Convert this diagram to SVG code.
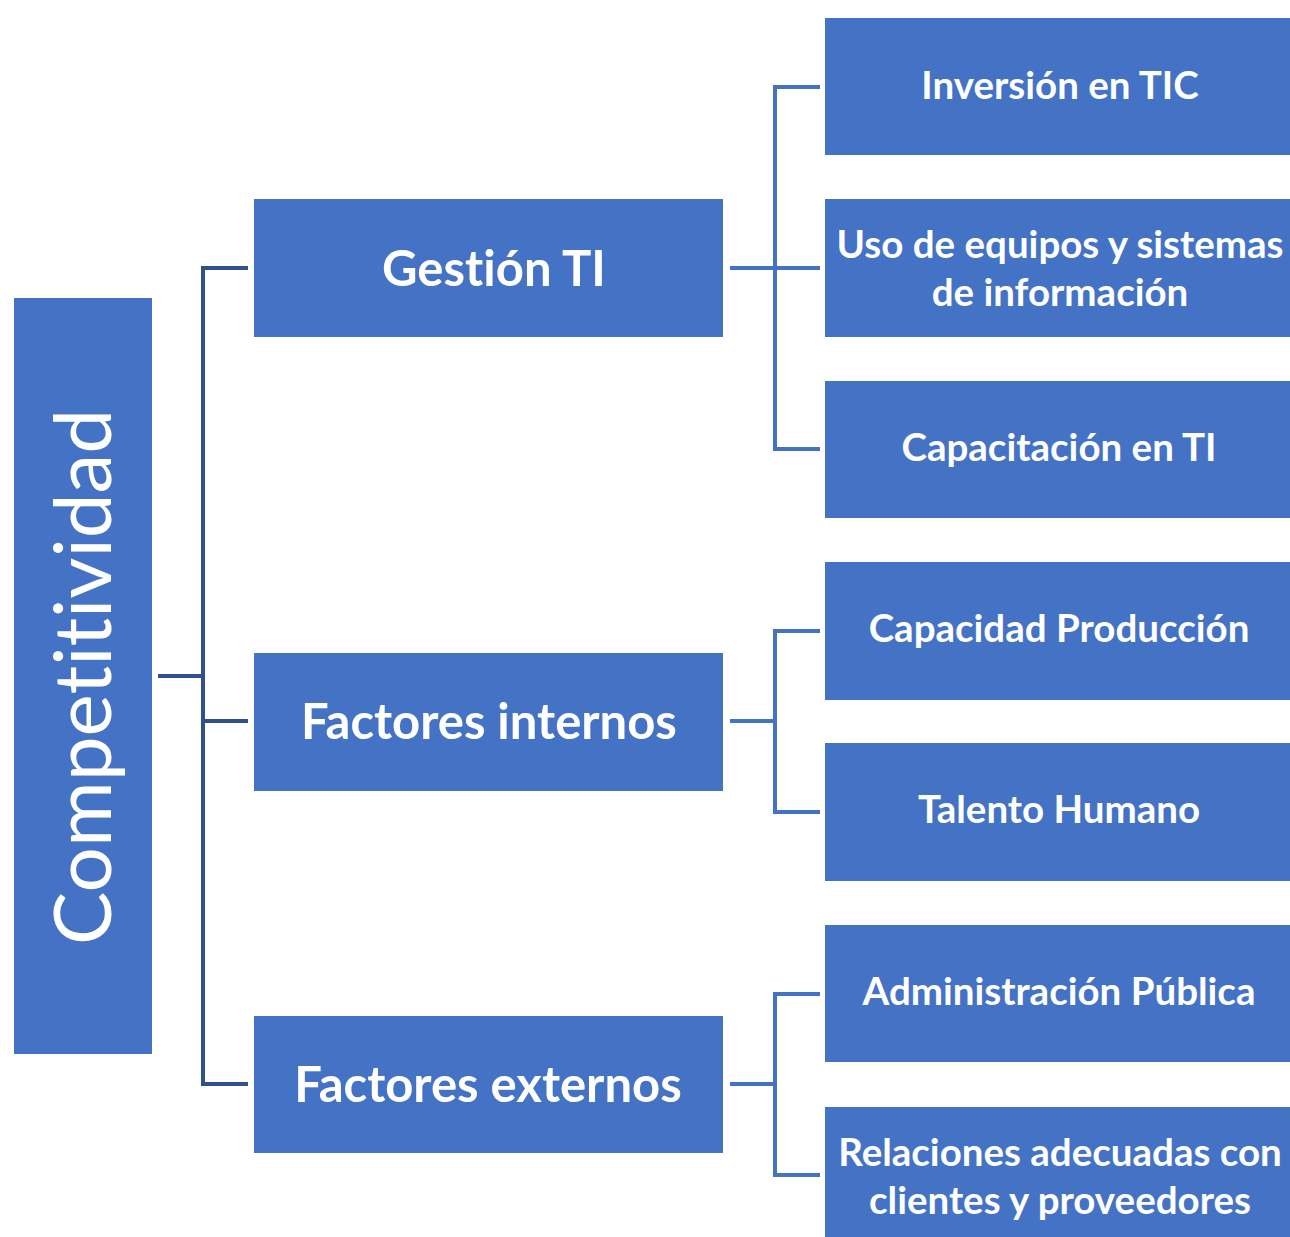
<svg xmlns="http://www.w3.org/2000/svg" width="1290" height="1237" viewBox="0 0 1290 1237">
<style>
.box{fill:#4472C4;}
.t{fill:#fff;font-family:Lato,"Open Sans","Liberation Sans",sans-serif;text-anchor:middle;dominant-baseline:central;font-variant-ligatures:none;}
.mid{font-size:49px;font-weight:bold;}
.leaf{font-size:38.5px;font-weight:bold;}
.c1{fill:none;stroke:#2F528F;stroke-width:4;}
.c2{fill:none;stroke:#4472C4;stroke-width:4;}
</style>
<rect width="1290" height="1237" fill="#fff"/>
<g id="connectors">
<path class="c1" d="M158,676 H203 M248,268 H203 V1084 H248 M203,721 H248"/>
<path class="c2" d="M730,268 H820 M820,87 H775 V449 H820"/>
<path class="c2" d="M730,721 H775 M820,631 H775 V812 H820"/>
<path class="c2" d="M730,1084 H775 M820,994 H775 V1175 H820"/>
</g>
<g id="root">
<rect class="box" x="14" y="298" width="138" height="756"/>
<text class="t" transform="translate(80,677) rotate(-90)" font-size="80">Competitividad</text>
</g>
<g id="gestion">
<rect class="box" x="254" y="199" width="469" height="138"/>
<text class="t mid" x="494" y="267">Gestión TI</text>
</g>
<g id="internos">
<rect class="box" x="254" y="653" width="469" height="138"/>
<text class="t mid" x="489" y="720">Factores internos</text>
</g>
<g id="externos">
<rect class="box" x="254" y="1016" width="469" height="137"/>
<text class="t mid" x="488" y="1083">Factores externos</text>
</g>
<g id="inversion">
<rect class="box" x="825" y="18" width="465" height="137"/>
<text class="t leaf" x="1060" y="84">Inversión en TIC</text>
</g>
<g id="uso">
<rect class="box" x="825" y="199" width="465" height="138"/>
<text class="t leaf" x="1060" y="243">Uso de equipos y sistemas</text>
<text class="t leaf" x="1060" y="291">de información</text>
</g>
<g id="capacitacion">
<rect class="box" x="825" y="381" width="465" height="137"/>
<text class="t leaf" x="1059" y="446">Capacitación en TI</text>
</g>
<g id="produccion">
<rect class="box" x="825" y="562" width="465" height="138"/>
<text class="t leaf" x="1059" y="627">Capacidad Producción</text>
</g>
<g id="talento">
<rect class="box" x="825" y="743" width="465" height="138"/>
<text class="t leaf" x="1059" y="808">Talento Humano</text>
</g>
<g id="administracion">
<rect class="box" x="825" y="925" width="465" height="137"/>
<text class="t leaf" x="1059" y="990">Administración Pública</text>
</g>
<g id="relaciones">
<rect class="box" x="825" y="1107" width="465" height="130"/>
<text class="t leaf" x="1060" y="1151">Relaciones adecuadas con</text>
<text class="t leaf" x="1060" y="1199">clientes y proveedores</text>
</g>
</svg>
